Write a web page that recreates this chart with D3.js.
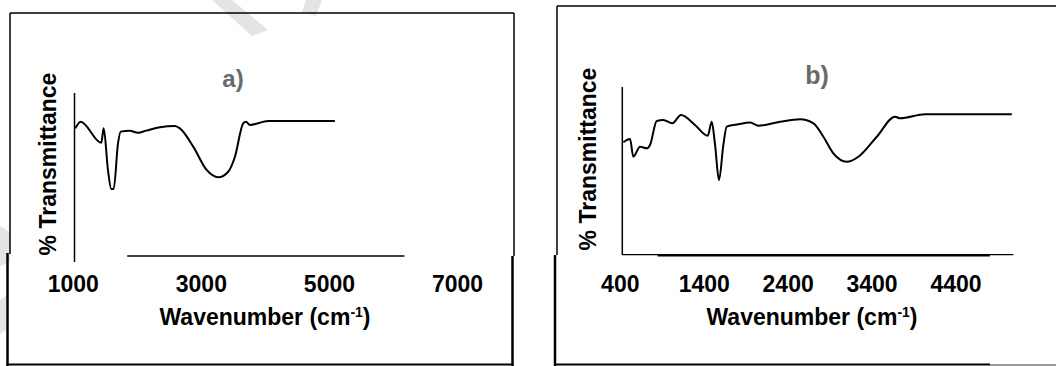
<!DOCTYPE html>
<html>
<head>
<meta charset="utf-8">
<script src="https://cdn.jsdelivr.net/npm/d3@7"></script>
<style>
  body { margin: 0; background: #fff; }
  svg { display: block; }
  text { font-family: "Liberation Sans", Arial, sans-serif; font-weight: bold; }
</style>
</head>
<body>
<script>
// spectrum a) wavenumber (cm-1) / % transmittance
var waveA  = [1039, 1123, 1445, 1482, 1549, 1601, 1638, 1706, 1748, 1888, 2018, 2147, 2361, 2595, 2673, 2881, 3090, 3271, 3427, 3532, 3661, 3704, 3766, 4052, 5093];
var transA = [78.3, 82.4, 69.5, 78.3, 52.8, 41.1, 41.1, 69.1, 76.3, 76.9, 75.6, 76.9, 79.0, 79.8, 78.3, 67.1, 52.8, 48.3, 51.7, 60.9, 81.4, 82.4, 80.4, 82.8, 82.8];
var ticksA = [1000, 3000, 5000, 7000];

// spectrum b)
var waveB  = [442, 522, 561, 641, 721, 760, 840, 919, 1026, 1129, 1296, 1448, 1495, 1535, 1582, 1634, 1674, 1813, 1952, 2051, 2310, 2548, 2707, 2826, 2945, 3105, 3243, 3462, 3680, 3740, 4038, 5071];
var transB = [67.1, 69.0, 58.5, 64.5, 63.5, 65.5, 79.8, 80.4, 78.4, 83.3, 77.4, 71.0, 79.3, 65.5, 44.6, 65.5, 76.4, 77.8, 78.8, 77.0, 79.3, 80.8, 78.4, 70.4, 60.5, 55.5, 58.5, 70.4, 82.3, 81.4, 83.8, 83.8];
var ticksB = [400, 1400, 2400, 3400, 4400];

var svg = d3.select("body").append("svg")
    .attr("width", 1056)
    .attr("height", 366);

// faint watermark strokes behind everything
var wm = svg.append("g").attr("fill", "#e4e4e4").attr("stroke", "none");
wm.append("path").attr("d", "M212,0 L232,0 L268,30 L252,36 Z");
wm.append("path").attr("d", "M306,0 L322,0 L316,16 L302,12 Z");
wm.append("path").attr("d", "M0,226 L10,232 L10,262 L0,266 Z");
wm.append("path").attr("d", "M0,300 L6,296 L6,330 L0,334 Z");

function frameLine(x1, y1, x2, y2, w, col) {
    svg.append("line")
        .attr("x1", x1).attr("y1", y1)
        .attr("x2", x2).attr("y2", y2)
        .attr("stroke", col || "#000")
        .attr("stroke-width", w);
}

// panel frames (the picture has pasted pieces with thicker lower edges)
frameLine(10, 13, 514, 13, 1.5);
frameLine(10, 13, 10, 254, 1.5);
frameLine(514, 13, 514, 256, 1.5);
frameLine(7.5, 253, 7.5, 366, 2.5);
frameLine(512.5, 256, 512.5, 366, 2.5);
frameLine(6.5, 364.5, 513.5, 364.5, 2);

frameLine(557, 6, 1056, 6, 1.5);
frameLine(557, 6, 557, 255, 1.5);
frameLine(555, 255, 555, 366, 2.5);
frameLine(554, 364.5, 990, 364.5, 2);
frameLine(990, 365, 1056, 365, 2, "#9a9a9a");

function drawPanel(cfg) {
    var x = d3.scaleLinear().domain(cfg.xDomain).range(cfg.xRange);
    var y = d3.scaleLinear().domain([0, 100]).range(cfg.yRange);
    var g = svg.append("g");

    // y axis line
    g.append("line")
        .attr("x1", cfg.yAxisX).attr("x2", cfg.yAxisX)
        .attr("y1", cfg.yAxisTop).attr("y2", cfg.yAxisBottom)
        .attr("stroke", "#000").attr("stroke-width", 1.5);

    // x axis line pieces
    cfg.baseLines.forEach(function(b) {
        g.append("line")
            .attr("x1", x(b[0])).attr("x2", x(b[1]))
            .attr("y1", b[2]).attr("y2", b[2])
            .attr("stroke", "#000").attr("stroke-width", b[3]);
    });

    // tick labels
    var ax = g.append("g")
        .attr("transform", "translate(0," + cfg.yRange[0] + ")")
        .call(d3.axisBottom(x).tickValues(cfg.ticks).tickSize(0).tickFormat(d3.format("d")));
    ax.select(".domain").remove();
    ax.selectAll("text")
        .attr("y", cfg.tickBase - cfg.yRange[0])
        .attr("dy", null)
        .attr("fill", "#000")
        .attr("font-family", "Liberation Sans, Arial, sans-serif")
        .attr("font-weight", "bold")
        .attr("font-size", "23px");

    // spectrum
    var line = d3.line()
        .x(function(d) { return x(d[0]); })
        .y(function(d) { return y(d[1]); })
        .curve(d3.curveMonotoneX);
    var pts = cfg.wave.map(function(w, i) { return [w, cfg.trans[i]]; });
    g.append("path")
        .datum(pts)
        .attr("fill", "none")
        .attr("stroke", "#000")
        .attr("stroke-width", 2)
        .attr("stroke-linejoin", "round")
        .attr("d", line);

    // titles
    g.append("text")
        .attr("x", cfg.titleX).attr("y", cfg.titleY)
        .attr("text-anchor", "middle")
        .attr("font-size", cfg.titleSize)
        .attr("fill", "#6a6a6a")
        .text(cfg.title);

    var xl = g.append("text")
        .attr("x", cfg.xLabelX).attr("y", 325)
        .attr("text-anchor", "middle")
        .attr("font-size", "23px")
        .attr("fill", "#000");
    xl.append("tspan").text("Wavenumber (cm");
    xl.append("tspan").attr("dy", -8).attr("font-size", "14px").text("-1");
    xl.append("tspan").attr("dy", 8).text(")");

    g.append("text")
        .attr("transform", "translate(" + cfg.yLabelX + "," + cfg.yLabelY + ") rotate(-90)")
        .attr("text-anchor", "middle")
        .attr("font-size", "23px")
        .attr("fill", "#000")
        .text("% Transmittance");
}

drawPanel({
    wave: waveA, trans: transA, ticks: ticksA,
    xDomain: [1000, 7000], xRange: [72.8, 457],
    yRange: [256, 93],
    yAxisX: 74.5, yAxisTop: 93, yAxisBottom: 262,
    baseLines: [[1850, 6180, 256, 1.5]],
    tickBase: 292,
    title: "a)", titleX: 233, titleY: 87, titleSize: "24px",
    xLabelX: 265, yLabelX: 56, yLabelY: 164
});

drawPanel({
    wave: waveB, trans: transB, ticks: ticksB,
    xDomain: [400, 4400], xRange: [619.8, 955.5],
    yRange: [255, 87],
    yAxisX: 622.3, yAxisTop: 87, yAxisBottom: 255,
    baseLines: [[430, 5090, 254.7, 1.3], [850, 4810, 255.3, 2.6]],
    tickBase: 292,
    title: "b)", titleX: 817, titleY: 84, titleSize: "25px",
    xLabelX: 812, yLabelX: 596, yLabelY: 159
});
</script>
</body>
</html>
